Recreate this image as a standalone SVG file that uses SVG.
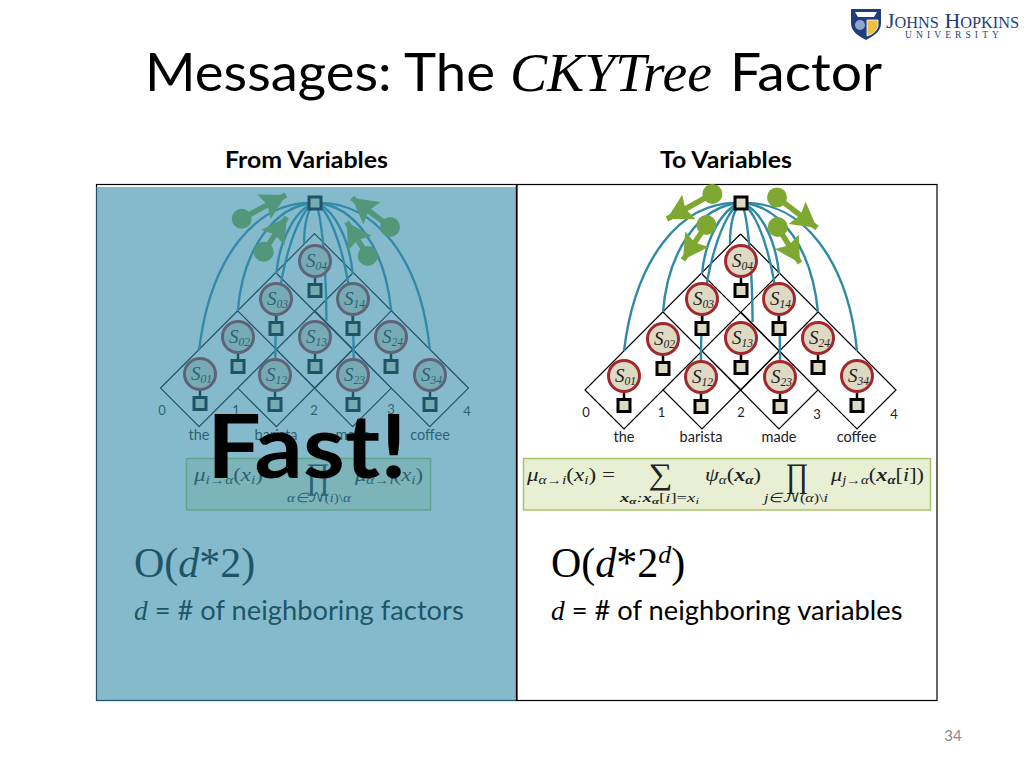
<svg xmlns="http://www.w3.org/2000/svg" width="1024" height="768" viewBox="0 0 1024 768">
<style>
text{font-family:"Lato","Open Sans",sans-serif;fill:#000}
.i{font-style:italic}
.b{font-weight:bold}
.arc{fill:none;stroke:#2f8aa6;stroke-width:2.4}
.lat{fill:none;stroke:#000;stroke-width:1.2}
.ar{fill:none;stroke:#7fa832;stroke-width:5.500}
.ad{fill:#7fa832}
.vc{fill:#ddd9c3;stroke:#a3272d;stroke-width:3}
.fq{fill:#ddd9c3;stroke:#000;stroke-width:3}
.st{stroke:#000;stroke-width:2.5}
.s{font-family:"Liberation Serif",serif;font-style:italic;font-size:19px;fill:#222}
.s tspan{font-size:11.500px}
.n{font-size:13px;text-anchor:middle;fill:#222}
.w{font-size:14.500px;text-anchor:middle;fill:#222}
.f{font-family:"Liberation Serif",serif;fill:#222;font-size:18px}
.f tspan.u{font-size:12px}
.fs{font-family:"Liberation Serif",serif;fill:#222;font-size:13px}
.fs tspan.u{font-size:9px}
.big{font-family:"Liberation Serif",serif;fill:#222;text-anchor:middle}
.box{fill:#e8efd3;stroke:#a9c46c;stroke-width:1.500}
.ser{font-family:"Liberation Serif",serif}
.scr{font-family:"DejaVu Math TeX Gyre","DejaVu Sans",serif;font-style:normal}
.lg{fill:#1d3f7f;font-family:"Liberation Serif",serif}
</style>
<defs>
<g id="v"><line class="st" x1="0" y1="14" x2="0" y2="24"/><rect class="fq" x="-6" y="23.500" width="12" height="12"/><circle class="vc" r="15.500"/></g>
<marker id="ah" markerUnits="userSpaceOnUse" markerWidth="26" markerHeight="30" refX="25" refY="15" orient="auto"><path class="ad" d="M0,1L25,15L0,29L4,15z"/></marker>
</defs>
<rect width="1024" height="768" fill="#fff"/>
<g id="logo">
<path d="M851,9h30v14c0,9-8,13-15,17c-7-4-15-8-15-17z" fill="#1d3f7f"/>
<path d="M855,12h22l-3,5h-16z" fill="#fff"/>
<circle cx="860" cy="25" r="5" fill="#8fa6c9"/>
<path d="M867,20h11v5c0,5-5,8-6,9l-5,2z" fill="#f0c040" stroke="#fff" stroke-width=".8"/>
<text class="lg" x="886" y="28" font-size="22">J<tspan font-size="16.300">OHNS</tspan> H<tspan font-size="16.300">OPKINS</tspan></text>
<text class="lg" x="905" y="38" font-size="9.500" letter-spacing="4.100">UNIVERSITY</text>
</g>
<g id="title" font-size="52">
<text x="145" y="91" textLength="350" lengthAdjust="spacingAndGlyphs">Messages: The</text>
<text x="510" y="91" class="i ser" font-size="55" textLength="202" lengthAdjust="spacingAndGlyphs">CKYTree</text>
<text x="730" y="91" textLength="152" lengthAdjust="spacingAndGlyphs">Factor</text>
</g>
<text x="225" y="168" font-size="23" class="b" textLength="163" lengthAdjust="spacingAndGlyphs">From Variables</text>
<text x="660" y="168" font-size="23" class="b" textLength="132" lengthAdjust="spacingAndGlyphs">To Variables</text>
<rect x="96.500" y="184.500" width="420" height="516" fill="#fff" stroke="#000" stroke-width="1.200"/>
<rect x="517" y="184.500" width="420" height="516" fill="#fff" stroke="#000" stroke-width="1.200"/>

<g id="left-panel">
<g transform="translate(-418.600,2) scale(.99)">
<g id="l-lattice">
<path class="lat" d="M740.500,234L896,390L857,429L702,274M740.500,234L585,390L624,429L779,274M702,351L779,429L818,390L741,312L663,390L702,429L779,351M663,312L741,390M818,312L741,390"/></g>
<g id="l-connectors">
<path class="arc" d="M741,203C680,200 635,260 624,351"/><path class="arc" d="M741,203C802,200 848,260 857,351"/>
<path class="arc" d="M741,203C700,205 668,250 663,312"/><path class="arc" d="M741,203C782,205 812,250 818,312"/>
<path class="arc" d="M741,203C722,208 705,240 702,274"/><path class="arc" d="M741,203C760,208 776,240 779,274"/>
<path class="arc" d="M741,203C725,208 700,270 701,361"/><path class="arc" d="M741,203C757,208 781,270 780,361"/>
<path class="arc" d="M741,203C746,208 752,250 752.600,322"/><path class="arc" d="M741,203C733,210 730,225 730,244"/>
</g>
</g>
<g id="l-arrows">
<circle class="ad" cx="241.700" cy="218.700" r="10"/><line class="ar" x1="241.700" y1="218.700" x2="286" y2="195" marker-end="url(#ah)"/>
<circle class="ad" cx="390" cy="227" r="10"/><line class="ar" x1="390" y1="227" x2="352" y2="198" marker-end="url(#ah)"/>
<circle class="ad" cx="263.700" cy="251.700" r="10"/><line class="ar" x1="263.700" y1="251.700" x2="286.700" y2="217" marker-end="url(#ah)"/>
<circle class="ad" cx="367.700" cy="256" r="10"/><line class="ar" x1="367.700" y1="256" x2="346.700" y2="222" marker-end="url(#ah)"/>
</g>
<g id="l-top"><rect class="fq" x="309" y="197" width="12" height="12"/></g>
<g id="l-s04" transform="translate(315,261)"><use href="#v"/><text class="s" x="-9" y="6">S<tspan dy="3">04</tspan></text></g>
<g id="l-s03" transform="translate(276,299)"><use href="#v"/><text class="s" x="-9" y="6">S<tspan dy="3">03</tspan></text></g>
<g id="l-s14" transform="translate(353,299)"><use href="#v"/><text class="s" x="-9" y="6">S<tspan dy="3">14</tspan></text></g>
<g id="l-s02" transform="translate(238,337)"><use href="#v"/><text class="s" x="-9" y="6">S<tspan dy="3">02</tspan></text></g>
<g id="l-s13" transform="translate(315,337)"><use href="#v"/><text class="s" x="-9" y="6">S<tspan dy="3">13</tspan></text></g>
<g id="l-s24" transform="translate(391,337)"><use href="#v"/><text class="s" x="-9" y="6">S<tspan dy="3">24</tspan></text></g>
<g id="l-s01" transform="translate(200,374)"><use href="#v"/><text class="s" x="-9" y="6">S<tspan dy="3">01</tspan></text></g>
<g id="l-s12" transform="translate(275,375)"><use href="#v"/><text class="s" x="-9" y="6">S<tspan dy="3">12</tspan></text></g>
<g id="l-s23" transform="translate(353,375)"><use href="#v"/><text class="s" x="-9" y="6">S<tspan dy="3">23</tspan></text></g>
<g id="l-s34" transform="translate(430,375)"><use href="#v"/><text class="s" x="-9" y="6">S<tspan dy="3">34</tspan></text></g>
<text class="n" x="162" y="415">0</text><text class="n" x="236" y="415">1</text><text class="n" x="314" y="415">2</text><text class="n" x="391" y="414">3</text><text class="n" x="467" y="416">4</text>
<text class="w" x="199" y="440">the</text><text class="w" x="276" y="440">barista</text><text class="w" x="353" y="440">made</text><text class="w" x="430" y="440">coffee</text>
<g id="l-formula">
<rect class="box" x="186.500" y="458.500" width="244" height="51.500"/>
<text class="f i" x="194" y="481" textLength="69" lengthAdjust="spacingAndGlyphs">μ<tspan class="u" dy="3">i→α</tspan><tspan dy="-3" font-style="normal">(</tspan>x<tspan class="u" dy="3">i</tspan><tspan dy="-3" font-style="normal">)</tspan></text>
<text class="big" x="318" y="488" font-size="36" textLength="24" lengthAdjust="spacingAndGlyphs">∏</text>
<text class="fs i" x="287" y="502" textLength="64" lengthAdjust="spacingAndGlyphs">α∈<tspan class="scr">𝒩</tspan><tspan font-style="normal">(</tspan>i<tspan font-style="normal">)\</tspan>α</text>
<text class="f i" x="355" y="481" textLength="68" lengthAdjust="spacingAndGlyphs">μ<tspan class="u" dy="3">α→i</tspan><tspan dy="-3" font-style="normal">(</tspan>x<tspan class="u" dy="3">i</tspan><tspan dy="-3" font-style="normal">)</tspan></text>
</g>
<text class="ser" x="134" y="577" font-size="42">O(<tspan class="i">d</tspan>*2)</text>
<text x="134" y="620" font-size="27.300"><tspan class="i ser">d</tspan> = # of neighboring factors</text>
</g>
<rect id="overlay" x="96" y="187" width="420" height="514" fill="rgb(52,140,170)" fill-opacity=".6"/>
<line x1="516.500" y1="185" x2="516.500" y2="700" stroke="#000" stroke-width="1.200"/>

<g id="right-panel">
<g id="r-lattice"><path class="lat" d="M740.500,234L896,390L857,429L702,274M740.500,234L585,390L624,429L779,274M702,351L779,429L818,390L741,312L663,390L702,429L779,351M663,312L741,390M818,312L741,390"/></g>
<g id="r-connectors">
<path class="arc" d="M741,203C680,200 635,260 624,351"/><path class="arc" d="M741,203C802,200 848,260 857,351"/>
<path class="arc" d="M741,203C700,205 668,250 663,312"/><path class="arc" d="M741,203C782,205 812,250 818,312"/>
<path class="arc" d="M741,203C722,208 705,240 702,274"/><path class="arc" d="M741,203C760,208 776,240 779,274"/>
<path class="arc" d="M741,203C725,208 700,270 701,361"/><path class="arc" d="M741,203C757,208 781,270 780,361"/>
<path class="arc" d="M741,203C746,208 752,250 752.600,322"/><path class="arc" d="M741,203C733,210 730,225 730,244"/>
</g>
<g id="r-arrows">
<circle class="ad" cx="712.400" cy="194" r="10"/><line class="ar" x1="712.400" y1="194" x2="667" y2="219" marker-end="url(#ah)"/>
<circle class="ad" cx="777" cy="197.400" r="10"/><line class="ar" x1="777" y1="197.400" x2="817" y2="228" marker-end="url(#ah)"/>
<circle class="ad" cx="706.400" cy="225" r="10"/><line class="ar" x1="706.400" y1="225" x2="683" y2="260" marker-end="url(#ah)"/>
<circle class="ad" cx="777.700" cy="227" r="10"/><line class="ar" x1="777.700" y1="227" x2="800" y2="263" marker-end="url(#ah)"/>
</g>
<g id="r-top"><rect class="fq" x="735" y="197" width="12" height="12"/></g>
<g id="r-s04" transform="translate(741,261)"><use href="#v"/><text class="s" x="-9" y="6">S<tspan dy="3">04</tspan></text></g>
<g id="r-s03" transform="translate(702,299)"><use href="#v"/><text class="s" x="-9" y="6">S<tspan dy="3">03</tspan></text></g>
<g id="r-s14" transform="translate(779,299)"><use href="#v"/><text class="s" x="-9" y="6">S<tspan dy="3">14</tspan></text></g>
<g id="r-s02" transform="translate(663,339)"><use href="#v"/><text class="s" x="-9" y="6">S<tspan dy="3">02</tspan></text></g>
<g id="r-s13" transform="translate(741,338)"><use href="#v"/><text class="s" x="-9" y="6">S<tspan dy="3">13</tspan></text></g>
<g id="r-s24" transform="translate(818,338)"><use href="#v"/><text class="s" x="-9" y="6">S<tspan dy="3">24</tspan></text></g>
<g id="r-s01" transform="translate(624,376)"><use href="#v"/><text class="s" x="-9" y="6">S<tspan dy="3">01</tspan></text></g>
<g id="r-s12" transform="translate(701,377)"><use href="#v"/><text class="s" x="-9" y="6">S<tspan dy="3">12</tspan></text></g>
<g id="r-s23" transform="translate(780,377)"><use href="#v"/><text class="s" x="-9" y="6">S<tspan dy="3">23</tspan></text></g>
<g id="r-s34" transform="translate(857,376)"><use href="#v"/><text class="s" x="-9" y="6">S<tspan dy="3">34</tspan></text></g>
<text class="n" x="586" y="417">0</text><text class="n" x="661.500" y="417">1</text><text class="n" x="741" y="417">2</text><text class="n" x="817" y="419">3</text><text class="n" x="894" y="419">4</text>
<text class="w" x="624" y="442">the</text><text class="w" x="701" y="442">barista</text><text class="w" x="779" y="442">made</text><text class="w" x="856.500" y="442">coffee</text>
<g id="r-formula">
<rect class="box" x="523.500" y="458.500" width="407" height="51.500"/>
<text class="f i" x="527" y="481" textLength="88" lengthAdjust="spacingAndGlyphs">μ<tspan class="u" dy="3">α→i</tspan><tspan dy="-3" font-style="normal">(</tspan>x<tspan class="u" dy="3">i</tspan><tspan dy="-3" font-style="normal">) =</tspan></text>
<text class="big" x="660.500" y="484" font-size="30" textLength="24" lengthAdjust="spacingAndGlyphs">∑</text>
<text class="fs i" x="620" y="502" textLength="79" lengthAdjust="spacingAndGlyphs"><tspan class="b">x</tspan><tspan class="b u" dy="2">α</tspan><tspan dy="-2">:</tspan><tspan class="b">x</tspan><tspan class="b u" dy="2">α</tspan><tspan dy="-2" font-style="normal">[</tspan>i<tspan font-style="normal">]=</tspan>x<tspan class="u" dy="2">i</tspan></text>
<text class="f i" x="705" y="481" textLength="56" lengthAdjust="spacingAndGlyphs">ψ<tspan class="u" dy="3">α</tspan><tspan dy="-3" font-style="normal">(</tspan><tspan class="b">x</tspan><tspan class="b u" dy="3">α</tspan><tspan dy="-3" font-style="normal">)</tspan></text>
<text class="big" x="797" y="487" font-size="34" textLength="23" lengthAdjust="spacingAndGlyphs">∏</text>
<text class="fs i" x="764" y="502" textLength="64" lengthAdjust="spacingAndGlyphs">j∈<tspan class="scr">𝒩</tspan><tspan font-style="normal">(</tspan>α<tspan font-style="normal">)\</tspan>i</text>
<text class="f i" x="831" y="481" textLength="93" lengthAdjust="spacingAndGlyphs">μ<tspan class="u" dy="3">j→α</tspan><tspan dy="-3" font-style="normal">(</tspan><tspan class="b">x</tspan><tspan class="b u" dy="3">α</tspan><tspan dy="-3" font-style="normal">[</tspan>i<tspan font-style="normal">])</tspan></text>
</g>
<text class="ser" x="551" y="577" font-size="42">O(<tspan class="i">d</tspan>*2<tspan class="i" font-size="26" dy="-14">d</tspan><tspan dy="14">)</tspan></text>
<text x="551" y="620" font-size="27.300"><tspan class="i ser">d</tspan> = # of neighboring variables</text>
</g>
<text id="fast" x="207" y="478" font-size="88" font-weight="bold" textLength="200" lengthAdjust="spacingAndGlyphs">Fast!</text>
<text x="953" y="741" font-size="15" text-anchor="middle" style="fill:#8a8a8a">34</text>
</svg>
